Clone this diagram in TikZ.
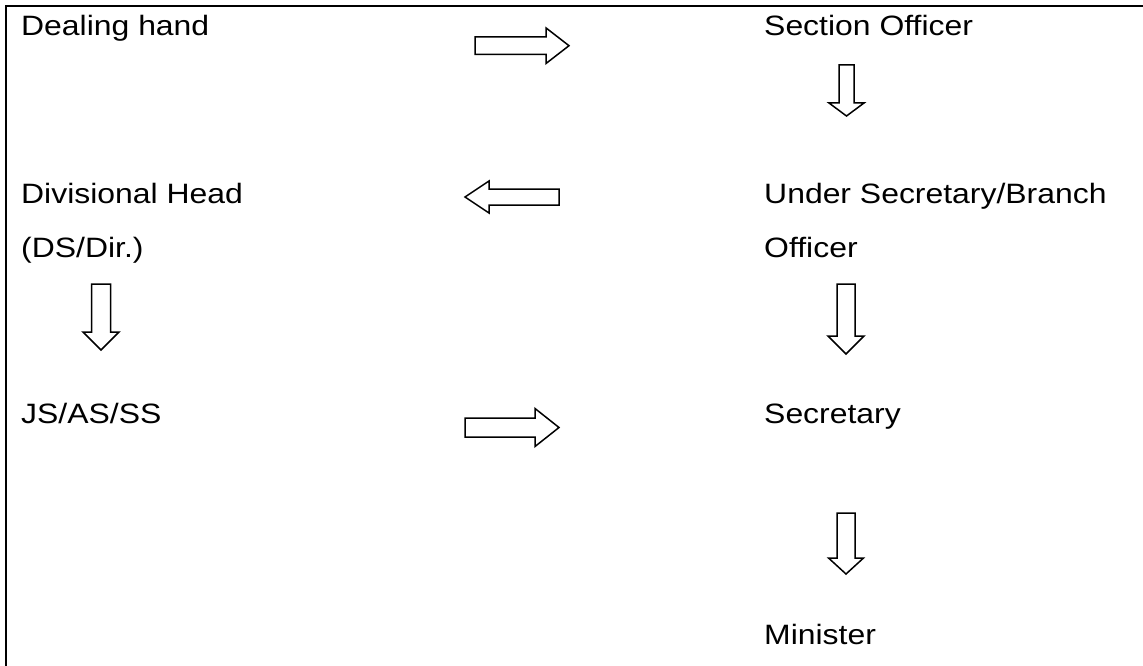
\documentclass[tikz,border=0pt]{standalone}
\usepackage{fontspec}
\setmainfont{Liberation Sans}[FakeStretch=1.14]
\usetikzlibrary{positioning}

\tikzset{
  label text/.style={anchor=base west, inner sep=0pt, font=\fontsize{28}{34}\selectfont},
  block arrow/.style={draw=black, line width=1.5pt, fill=white, line join=miter}
}

\begin{document}
\begin{tikzpicture}[x=1pt, y=-1pt]
    % Page
    \useasboundingbox (0,0) rectangle (1143,666);
    \fill[white] (0,0) rectangle (1143,666);

    % Frame (runs off the page to the right and bottom)
    \draw[line width=2.2pt] (6.2,680) -- (6.2,5.7) -- (1160,5.7);

    % Left column
    \node[label text] (dealing) at (21, 36) {Dealing hand};
    \node[label text] (divhead) at (21, 203.5) {Divisional Head};
    \node[label text] (dsdir) at (21, 257) {(DS/Dir.)};
    \node[label text] (jsasss) at (21, 423) {JS/AS/SS};

    % Right column
    \node[label text] (secofficer) at (764, 36) {Section Officer};
    \node[label text] (undersec) at (764, 203.5) {Under Secretary/Branch};
    \node[label text] (officer) at (764, 257) {Officer};
    \node[label text] (secretary) at (764, 423) {Secretary};
    \node[label text] (minister) at (764, 644) {Minister};

    % Hollow arrows: tail x / tail y / angle / length / head length / shaft half / head half
    \foreach \x/\y/\a/\l/\h/\s/\w in {
        475/45.7/0/94/23/8.8/17.8,
        559/197/180/94/24/8/16,
        465/427.5/0/94/24/9.5/19,
        846.5/65/-90/51/13/7.5/17.5,
        101/284/-90/66/18/9.5/18,
        846/284/-90/70/18/9/18,
        846/513/-90/61/16/9/17.5}
      \draw[block arrow, shift={(\x,\y)}, rotate=\a]
        (0,-\s) -- (\l-\h,-\s) -- (\l-\h,-\w) -- (\l,0) -- (\l-\h,\w) -- (\l-\h,\s) -- (0,\s) -- cycle;

\end{tikzpicture}
\end{document}
